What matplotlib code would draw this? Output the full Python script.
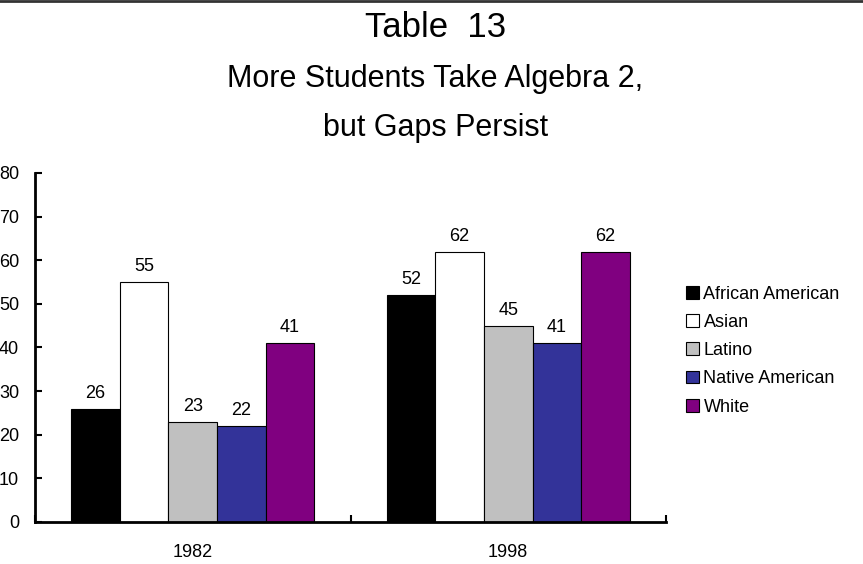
import matplotlib
matplotlib.use("Agg")
import matplotlib.pyplot as plt
import numpy as np
from matplotlib.patches import Patch

plt.rcParams['font.family'] = ['Liberation Sans', 'DejaVu Sans']

years = ["1982", "1998"]
groups = ["African American", "Asian", "Latino", "Native American", "White"]
values = {
    "African American": [26, 52],
    "Asian": [55, 62],
    "Latino": [23, 45],
    "Native American": [22, 41],
    "White": [41, 62],
}
colors = ["#000000", "#FFFFFF", "#C0C0C0", "#333399", "#800080"]
yticks = [0, 10, 20, 30, 40, 50, 60, 70, 80]

fs = 13
fig = plt.figure(figsize=(8.63, 5.64), dpi=100)
ax = fig.add_axes([0.0406, 0.0745, 0.7311, 0.6188])

x = np.arange(len(years))
bw = 0.154
for i, g in enumerate(groups):
    pos = x - 2 * bw + i * bw
    bars = ax.bar(pos, values[g], width=bw, color=colors[i], edgecolor="black", linewidth=0.8)
    for b, v in zip(bars, values[g]):
        ax.text(b.get_x() + b.get_width() / 2, v + 1.6, str(v), ha="center", va="bottom", fontsize=fs)

ax.set_xlim(-0.5, 1.5)
ax.set_ylim(0, 80)
ax.set_yticks(yticks)
ax.set_yticklabels([str(t) for t in yticks], fontsize=fs)
ax.set_xticks([-0.5, 0.5, 1.5])
ax.set_xticklabels([])
ax.set_xticks(x, minor=True)
ax.set_xticklabels(years, minor=True, fontsize=fs)
ax.tick_params(axis="x", which="minor", length=0, pad=16)
ax.tick_params(axis="x", which="major", direction="in", length=5, width=1.5)
ax.tick_params(axis="y", direction="in", length=5, width=1.5, pad=11.5)
for s in ["top", "right"]:
    ax.spines[s].set_visible(False)
for s in ["left", "bottom"]:
    ax.spines[s].set_linewidth(2)

handles = [Patch(facecolor=c, edgecolor="black", linewidth=0.8, label=g) for g, c in zip(groups, colors)]
fig.legend(handles=handles, loc="upper left", bbox_to_anchor=(0.789, 0.503), frameon=False,
           fontsize=fs, handlelength=0.7, handleheight=0.7, handletextpad=0.25, labelspacing=0.62,
           borderaxespad=0, borderpad=0.3)

cx = 435.5 / 863
fig.text(cx, 1 - 37 / 564, "Table  13", ha="center", va="baseline", fontsize=25)
fig.text(cx, 1 - 87 / 564, "More Students Take Algebra 2,", ha="center", va="baseline", fontsize=22)
fig.text(cx, 1 - 136 / 564, "but Gaps Persist", ha="center", va="baseline", fontsize=22)

fig.add_artist(plt.Line2D([0, 1], [0.998, 0.998], color="#333333", linewidth=2, transform=fig.transFigure))

fig.savefig("out.png", dpi=100)
